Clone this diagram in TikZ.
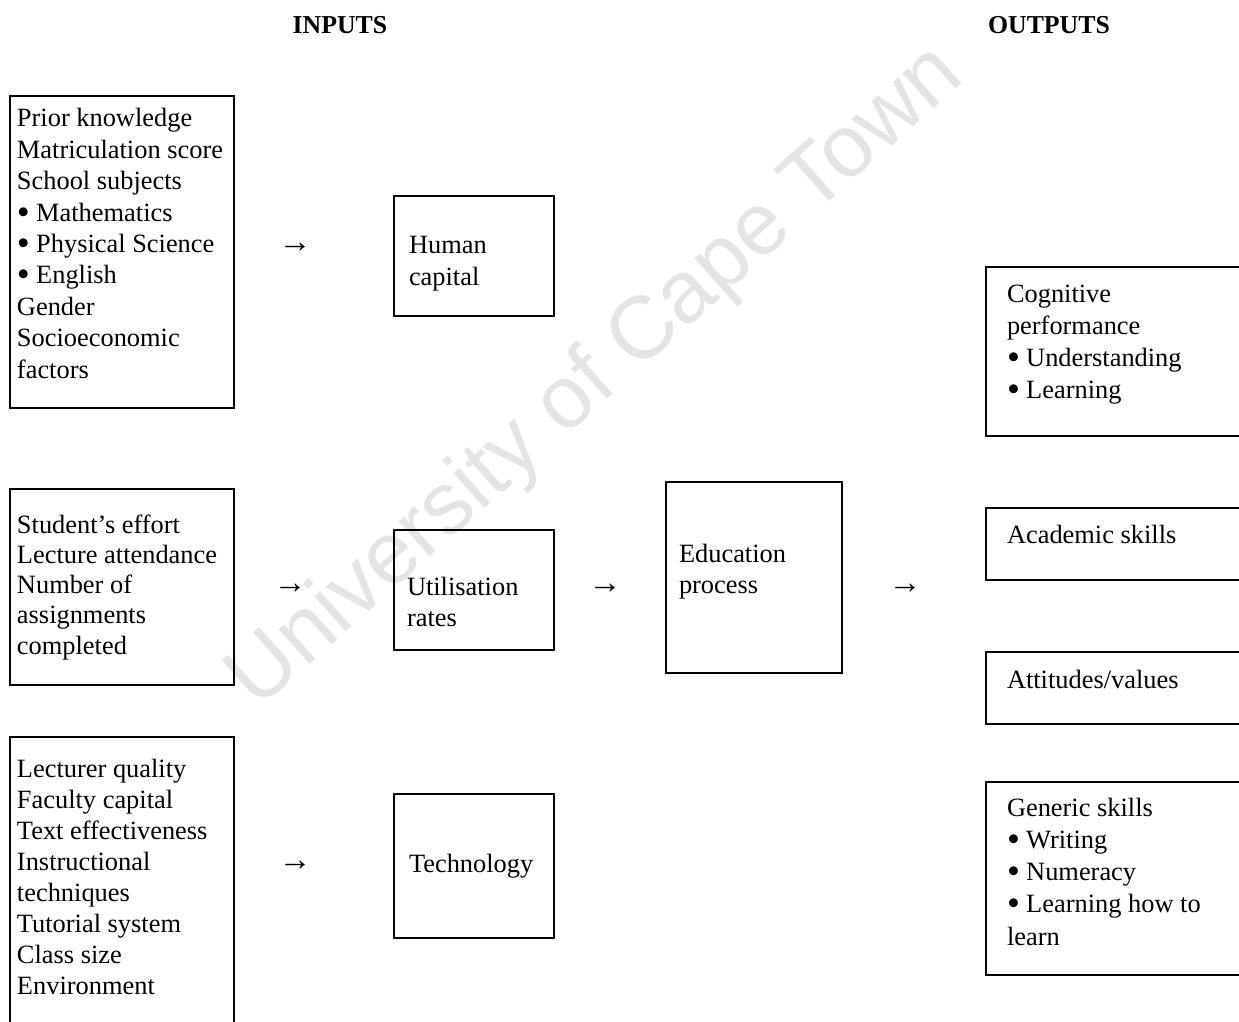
\documentclass[tikz,border=0pt]{standalone}
\usepackage{fontspec}
\setmainfont{Liberation Serif}
\newfontfamily\wmfont{Liberation Sans}
\newcommand\lns[2][15.7pt]{\parbox[t]{150pt}{\fontsize{13.2pt}{#1}\selectfont\raggedright #2}}
\newcommand\bul{\makebox[9.6pt][l]{\raisebox{-0.11em}{\scalebox{1.4}{\textbullet}}}}
\begin{document}
\begin{tikzpicture}[x=0.5pt,y=-0.5pt,
  every node/.style={inner sep=0pt, outer sep=0pt},
  txt/.style={anchor=base west},
  boxst/.style={draw, line width=1pt, rectangle, anchor=north west},
  openbox/.style={draw, line width=1pt},
  arr/.style={anchor=center, font=\fontsize{13.2pt}{15.7pt}\selectfont},
  head/.style={anchor=base, font=\bfseries\fontsize{12.9pt}{15pt}\selectfont}]
\useasboundingbox (0,0) rectangle (1239,1022);

% watermark
\node[rotate=41.7, text=black!10, font=\wmfont\fontsize{44pt}{44pt}\selectfont] (wm) at (597,378) {University of Cape Town};

% headings
\node[head] (hin) at (340,34) {INPUTS};
\node[head] (hout) at (1049,34) {OUTPUTS};

% input boxes
\node[boxst, minimum width=112pt, minimum height=156pt] (b1) at (10,96) {};
\node[txt] (t1) at (17,127) {\lns{Prior knowledge\\Matriculation score\\School subjects\\\bul Mathematics\\\bul Physical Science\\\bul English\\Gender\\Socioeconomic\\factors}};

\node[boxst, minimum width=112pt, minimum height=98pt] (b2) at (10,489) {};
\node[txt] (t2) at (17,533) {\lns[15.15pt]{Student’s effort\\Lecture attendance\\Number of\\assignments\\completed}};

\coordinate (b3tl) at (10,737);
\coordinate (b3tr) at (234,737);
\coordinate (b3bl) at (10,1024);
\coordinate (b3br) at (234,1024);
\draw[openbox] (b3bl) -- (b3tl) -- (b3tr) -- (b3br);
\node[txt] (t3) at (17,777) {\lns[15.55pt]{Lecturer quality\\Faculty capital\\Text effectiveness\\Instructional\\techniques\\Tutorial system\\Class size\\Environment}};

% middle boxes
\node[boxst, minimum width=80pt, minimum height=60pt] (hc) at (394,196) {};
\node[txt] (thc) at (409,254) {\lns[16pt]{Human\\capital}};

\node[boxst, minimum width=80pt, minimum height=60pt] (ut) at (394,530) {};
\node[txt] (tut) at (407,595) {\lns[15.5pt]{Utilisation\\rates}};

\node[boxst, minimum width=80pt, minimum height=72pt] (te) at (394,794) {};
\node[txt] (tte) at (409,872) {\lns{Technology}};

\node[boxst, minimum width=88pt, minimum height=95.5pt] (ed) at (666,482) {};
\node[txt] (ted) at (679,562) {\lns[15.5pt]{Education\\process}};

% output boxes (cut at right edge)
\coordinate (cpa) at (1241,267); \coordinate (cpb) at (986,436); \coordinate (cpc) at (1241,436);
\draw[openbox] (cpa) -| (cpb) -- (cpc);
\node[txt] (tcp) at (1007,303) {\lns[16pt]{Cognitive\\performance\\\bul Understanding\\\bul Learning}};

\coordinate (aca) at (1241,508); \coordinate (acb) at (986,580); \coordinate (acc) at (1241,580);
\draw[openbox] (aca) -| (acb) -- (acc);
\node[txt] (tac) at (1007,543) {\lns{Academic skills}};

\coordinate (ata) at (1241,652); \coordinate (atb) at (986,724); \coordinate (atc) at (1241,724);
\draw[openbox] (ata) -| (atb) -- (atc);
\node[txt] (tat) at (1007,688) {\lns{Attitudes/values}};

\coordinate (gsa) at (1241,782); \coordinate (gsb) at (986,975); \coordinate (gsc) at (1241,975);
\draw[openbox] (gsa) -| (gsb) -- (gsc);
\node[txt] (tgs) at (1007,816) {\lns[16.15pt]{Generic skills\\\bul Writing\\\bul Numeracy\\\bul Learning how to\\learn}};

% arrow glyphs
\node[arr] (a1) at (295,248) {\scalebox{1.25}{→}};
\node[arr] (a2) at (290,589) {\scalebox{1.25}{→}};
\node[arr] (a3) at (605,589) {\scalebox{1.25}{→}};
\node[arr] (a4) at (905,589) {\scalebox{1.25}{→}};
\node[arr] (a5) at (295,866) {\scalebox{1.25}{→}};
\end{tikzpicture}
\end{document}
